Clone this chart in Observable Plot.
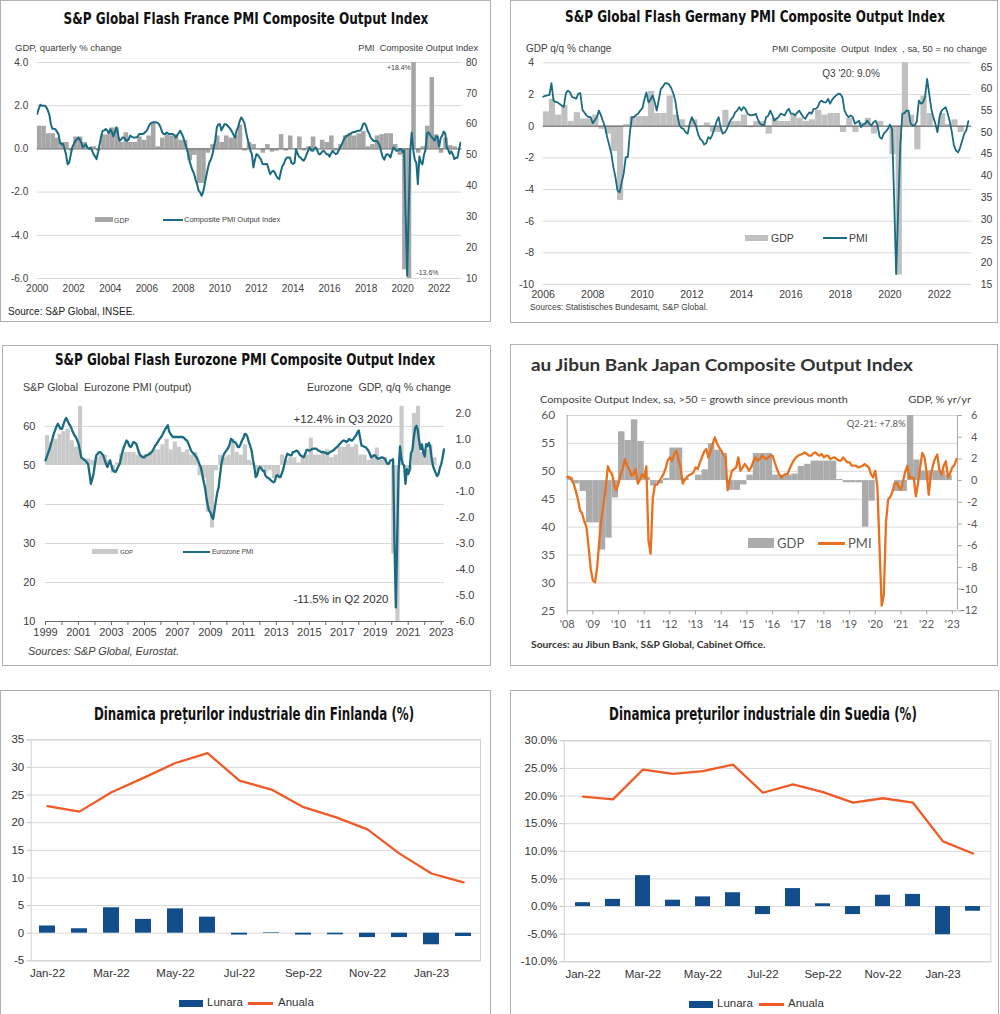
<!DOCTYPE html>
<html><head><meta charset="utf-8">
<script src="https://cdn.jsdelivr.net/npm/d3@7"></script>
<script src="https://cdn.jsdelivr.net/npm/@observablehq/plot@0.6"></script>
<style>
body{margin:0;background:#fff;}
#root{position:relative;width:1000px;height:1014px;overflow:hidden;background:#fff;}
.box{position:absolute;border:1px solid #b0b0b0;box-sizing:border-box;}
.t{position:absolute;white-space:pre;line-height:1;}
</style></head><body><div id="root"></div><script>
// ---------------- DATA ----------------
// France composite PMI, monthly from Jan 2000
const frPMI = [
63.3,65.0,66.3,66.0,66.0,66.0,65.5,64.5,63.0,60.0,58.5,58.5,
58.4,57.5,56.8,54.0,53.5,53.6,52.0,50.0,47.0,47.5,50.0,52.5,
53.5,54.6,55.0,55.7,55.0,54.0,52.5,53.0,53.5,52.5,52.0,52.5,
51.5,50.3,49.5,48.7,51.0,53.6,56.0,57.9,58.0,58.4,58.0,57.0,
58.4,57.5,56.0,57.5,59.0,57.0,54.6,55.0,55.7,55.7,55.0,54.6,
55.0,56.3,56.0,55.7,55.7,55.7,56.0,56.8,56.8,56.8,57.0,57.5,
57.9,59.0,60.0,60.5,60.6,60.6,60.6,60.5,60.0,59.0,57.5,56.8,
56.8,57.3,57.0,56.8,56.8,56.8,56.5,55.7,56.5,57.2,57.9,56.8,
55.7,54.0,52.5,50.5,48.2,46.5,45.0,44.0,42.0,40.6,38.5,37.9,
36.8,38.0,40.5,43.0,45.5,47.5,48.5,50.0,52.5,55.0,59.0,60.0,
60.0,58.0,59.0,60.0,60.0,59.5,59.0,58.4,57.5,56.5,55.7,58.0,
59.0,61.0,62.2,61.5,60.5,58.0,55.5,53.6,51.5,50.3,46.0,48.5,
50.3,50.0,49.2,48.5,47.1,47.0,47.1,47.1,45.5,43.8,44.5,44.9,
44.5,43.3,42.5,42.2,44.5,46.5,47.1,48.5,49.2,49.2,49.2,47.5,
47.1,47.5,51.9,50.5,49.5,49.2,48.5,48.2,49.0,50.3,51.5,52.5,
51.5,51.4,52.0,52.5,51.5,50.3,50.3,51.0,51.4,51.0,50.3,50.3,
49.5,50.5,51.4,50.8,50.3,50.5,51.5,52.5,53.5,54.6,55.5,56.3,
56.3,56.8,57.0,57.3,57.5,57.5,57.9,57.9,57.9,58.5,60.0,60.3,
59.5,57.9,57.0,55.7,55.0,54.6,54.6,54.6,54.0,53.0,51.0,49.2,
48.5,50.0,50.3,50.0,49.2,51.0,52.5,52.0,51.4,51.5,51.9,52.0,
51.0,51.5,30.0,11.0,32.0,51.5,57.3,51.6,48.5,47.5,40.6,49.5,
47.7,47.0,50.0,51.6,57.0,57.4,56.6,55.9,55.3,54.7,56.1,55.8,
52.7,55.5,56.3,57.6,57.0,52.5,51.7,50.4,51.2,50.2,48.7,49.1,
49.1,51.7,54.0];
// France GDP q/q %, quarterly from Q1 2000
const frGDP = [
1.05,1.05,0.7,0.7, 0.5,0.3,0.3,-0.1, 0.55,0.55,0.3,0.0, 0.1,-0.1,0.65,0.65,
0.97,0.97,0.3,0.75, 0.3,0.3,0.55,0.4, 0.6,1.2,0.1,0.5, 0.65,0.6,0.65,0.4,
0.4,-0.55,-0.3,-1.6, -1.6,-0.2,0.2,0.6, 0.3,0.6,0.5,0.6, 1.1,-0.1,0.3,0.2,
0.0,-0.2,0.2,-0.15, -0.1,0.66,-0.1,0.6, 0.0,0.55,-0.1,0.1, 0.55,0.0,0.4,0.3,
0.6,-0.1,0.2,0.6, 0.7,0.6,0.7,0.8, 0.1,0.2,0.6,0.66, 0.7,0.7,0.2,-0.3,
-5.6,-13.6,18.4,-0.2, 0.1,1.05,3.3,0.65, -0.2,0.5,0.15,0.1];
const frYears = [2000,2002,2004,2006,2008,2010,2012,2014,2016,2018,2020,2022];

// Germany composite PMI, monthly from Jan 2006
const dePMI = [
58.2,58.4,58.5,58.6,61.3,57.3,57.0,56.9,56.5,56.2,55.9,59.0,
59.6,59.2,58.1,58.0,57.7,58.9,59.0,55.2,54.5,53.9,53.5,53.5,
52.1,52.8,53.5,55.0,53.9,52.5,51.2,48.9,47.0,45.1,42.0,39.7,
36.6,36.2,38.5,40.5,44.3,44.3,50.0,53.5,53.5,54.0,54.3,55.0,
55.5,57.5,59.2,56.9,57.5,58.5,57.0,55.0,57.5,60.0,60.5,61.3,
61.3,61.0,60.2,59.0,57.3,54.0,51.6,51.0,50.8,50.0,49.7,52.0,
53.5,52.5,51.5,49.7,48.5,48.1,47.2,47.5,48.9,48.5,49.5,51.0,
52.5,53.5,51.0,49.7,50.0,50.8,52.0,53.0,53.5,54.6,55.0,55.8,
55.0,55.8,55.4,54.3,54.0,53.9,54.0,54.3,53.0,52.0,51.7,51.6,
53.5,53.8,55.0,54.0,52.7,53.2,53.5,54.3,54.1,53.9,54.9,55.4,
54.3,54.3,53.9,54.5,55.0,54.3,53.5,53.1,54.0,54.6,54.3,55.4,
55.4,55.8,57.0,57.3,56.9,56.9,57.7,56.6,57.5,58.1,58.5,58.9,
58.8,58.0,55.0,54.0,53.5,53.9,53.5,52.0,52.3,52.7,51.2,51.8,
52.0,52.7,52.0,51.6,52.3,52.7,51.6,48.9,48.5,49.7,50.2,50.8,
51.8,50.7,35.0,17.4,32.3,47.0,54.3,54.4,55.0,55.0,52.0,51.6,
51.6,52.5,57.3,56.6,56.9,58.1,62.3,58.9,55.5,53.5,52.0,50.0,
53.5,55.0,55.4,55.8,54.3,52.5,50.0,47.0,45.8,45.4,46.5,48.1,
49.7,50.5,52.6];
// Germany GDP q/q %, quarterly from Q1 2006
const deGDP = [
0.9,1.7,0.7,1.3, 0.3,0.85,0.45,0.45, 0.7,-0.2,-0.5,-1.6, -4.7,0.1,0.6,0.6,
0.6,2.2,0.8,0.8, 1.9,0.7,0.4,-0.1, 0.4,0.0,0.2,-0.4, -0.4,1.0,0.3,0.3,
0.7,-0.1,0.3,0.3, -0.5,0.5,0.3,0.3, 0.7,0.5,0.3,0.4, 1.0,0.7,0.8,0.8,
-0.4,0.5,-0.4,0.2, 0.5,-0.5,0.3,0.0, -1.8,-9.4,9.0,0.7, -1.5,1.9,0.8,0.0,
0.8,0.1,0.4,-0.4];
const deYears = [2006,2008,2010,2012,2014,2016,2018,2020,2022];

// Eurozone composite PMI, monthly from Jan 1999
const ezPMI = [
51.3,52.3,53.3,54.3,55.5,56.8,58.1,59.0,60.0,60.7,60.0,59.4,
59.4,60.5,61.5,62.2,61.5,60.7,60.2,59.4,58.5,57.8,57.3,56.5,
55.6,54.0,52.1,51.8,51.5,51.3,50.8,50.4,48.0,45.3,46.5,47.9,
50.5,52.6,53.0,53.4,53.4,53.0,52.6,51.5,50.5,49.6,50.5,51.3,
50.0,48.7,48.5,48.3,49.0,49.8,50.4,52.0,53.5,54.7,55.5,56.4,
56.0,55.0,54.7,55.3,56.0,55.8,55.6,54.5,53.3,52.6,52.3,52.1,
52.1,52.6,52.6,52.8,53.0,53.4,53.8,54.5,55.2,55.6,56.2,56.8,
57.2,57.8,58.5,59.2,59.8,60.3,58.8,58.1,57.6,57.3,57.3,57.3,
57.3,57.3,57.3,57.3,57.3,57.0,56.6,56.4,55.6,54.7,53.8,53.3,
53.0,52.5,52.1,51.3,50.3,49.6,48.0,46.0,44.5,42.0,40.0,38.5,
38.0,37.0,36.3,38.5,40.8,43.0,44.4,47.5,50.4,52.0,53.0,53.5,
54.0,54.5,55.5,56.8,56.5,56.0,56.0,55.5,54.7,54.7,55.5,56.4,
57.0,58.1,58.0,57.3,56.0,55.0,53.8,51.5,49.6,47.0,47.5,49.0,
49.6,49.3,48.7,48.7,47.5,47.0,46.8,46.6,46.2,45.9,45.7,46.0,
47.4,47.5,47.0,47.0,48.0,49.0,50.5,52.0,53.0,52.8,52.6,52.6,
53.4,53.5,53.7,53.8,53.5,52.8,52.5,52.3,52.1,53.0,54.0,54.0,
53.8,54.0,54.2,54.3,54.3,54.3,54.0,53.8,53.6,53.4,53.5,53.3,
53.3,53.0,53.1,53.4,53.6,53.8,54.0,54.4,54.7,55.0,55.5,55.8,
56.2,56.4,56.3,56.0,56.3,56.8,56.5,56.4,56.7,57.3,57.7,58.5,
59.0,57.0,55.1,55.0,54.8,54.7,54.3,53.8,53.0,52.1,52.3,52.6,
52.6,52.0,51.7,51.8,52.0,52.1,51.9,51.7,51.0,50.4,50.6,51.3,
51.3,51.6,29.7,13.6,31.9,48.5,54.9,51.9,50.4,50.0,45.3,49.1,
47.8,48.8,53.2,53.8,57.1,59.5,60.2,59.0,56.2,54.2,55.4,53.3,
52.3,55.5,54.9,55.8,54.8,52.0,49.9,48.9,48.1,47.3,47.8,49.3,
50.3,52.0,54.1];
// Eurozone GDP q/q %, quarterly from Q1 1999
const ezGDP = [
1.15,0.9,1.0,1.2, 1.3,1.4,0.95,0.7, 2.5,0.25,0.25,0.2, 0.3,0.4,0.4,0.2,
-0.3,0.1,0.45,0.5, 0.5,0.5,0.4,0.4, 0.4,0.5,0.6,0.6, 0.8,1.0,0.6,0.9,
0.7,0.5,0.6,0.4, 0.5,-0.4,-0.5,-1.8, -2.4,-0.2,0.4,0.3, 0.4,1.0,0.5,0.4,
0.8,0.2,0.1,-0.3, -0.1,-0.3,-0.2,-0.5, -0.4,0.4,0.2,0.3, 0.3,0.1,0.3,0.4,
1.05,0.4,0.4,0.5, 0.6,0.3,0.4,0.7, 0.7,0.8,0.7,0.8, 0.4,0.4,0.2,0.4,
0.67,0.2,0.3,0.1, -3.4,-11.5,12.4,-0.1, -0.2,2.0,2.3,0.5, 0.6,0.8,0.3,0.0];

// Japan composite PMI, monthly from Jan 2008
const jpPMI = [
49.0,49.0,48.5,47.8,46.5,45.0,43.0,42.4,41.0,40.0,36.5,32.5,
30.4,30.1,32.8,37.5,41.5,44.2,47.0,50.9,50.0,49.5,47.5,46.6,
47.8,49.5,50.5,52.2,51.0,50.4,49.2,49.5,50.4,47.8,48.5,49.5,
48.9,50.9,37.6,35.2,45.2,47.5,47.6,48.2,48.8,49.5,50.5,52.0,
52.5,51.9,53.0,53.7,52.2,50.7,47.8,48.5,49.0,49.3,49.5,49.8,
50.7,50.4,51.5,52.5,53.5,54.0,52.5,53.5,54.9,56.1,55.0,54.3,
53.7,53.0,52.5,46.6,48.5,50.1,50.4,50.7,52.5,50.1,50.7,51.3,
50.8,50.1,50.7,51.8,52.5,51.9,52.2,52.8,52.5,52.2,52.5,52.8,
52.8,51.6,50.5,49.5,48.9,49.2,49.5,49.5,50.5,51.3,52.0,52.5,
52.8,53.0,53.1,53.4,53.1,52.8,52.8,53.2,53.4,53.0,52.8,53.1,
52.5,52.8,52.8,52.2,52.4,52.5,52.2,51.9,51.9,52.5,52.0,51.6,
51.6,51.0,51.0,51.0,50.7,50.8,51.0,51.3,51.0,50.7,49.5,48.9,
50.1,47.2,36.4,25.9,27.8,40.8,44.9,45.4,46.3,47.8,48.0,47.2,
46.7,48.2,49.9,51.0,48.8,48.9,48.8,45.5,47.9,50.7,53.3,52.5,
49.9,45.8,49.4,51.1,52.3,53.0,50.2,49.4,51.0,51.8,48.9,49.7,
50.7,51.1,52.2];
// Japan GDP % yr/yr, quarterly from Q1 2008
const jpGDP = [
0.3,-0.3,-1.0,-3.9, -3.9,-6.4,-5.3,-1.6, 4.5,3.7,5.6,3.6, 0.3,-0.5,-0.3,0.2,
3.0,3.0,0.2,0.0, 0.5,1.0,3.4,2.8, 2.5,-0.9,-0.9,-0.4, 0.5,2.5,2.5,2.5,
0.5,0.5,0.5,0.6, 1.3,1.5,1.8,1.8, 1.8,1.8,0.1,-0.2, -0.2,-0.2,-4.3,-1.9,
0,0,0,-1.0, -1.0,7.8,1.9,0.9, 0.9,0.9,0.9,0.5];
const jpYears = [2008,2009,2010,2011,2012,2013,2014,2015,2016,2017,2018,2019,2020,2021,2022,2023];

// Finland / Sweden industrial prices
const months = ["Jan-22","Feb-22","Mar-22","Apr-22","May-22","Jun-22","Jul-22","Aug-22","Sep-22","Oct-22","Nov-22","Dec-22","Jan-23","Feb-23"];
const monthLabels = ["Jan-22","Mar-22","May-22","Jul-22","Sep-22","Nov-22","Jan-23"];
const fiLunara = [1.3,0.8,4.6,2.5,4.4,2.9,-0.35,0.1,-0.35,-0.3,-0.8,-0.8,-2.1,-0.6];
const fiAnuala = [23.0,22.0,25.5,28.1,30.8,32.6,27.6,26.0,22.8,21.0,18.8,14.4,10.8,9.2];
const seLunara = [0.7,1.3,5.6,1.15,1.75,2.5,-1.45,3.25,0.5,-1.45,2.05,2.2,-5.1,-0.85];
const seAnuala = [19.9,19.4,24.8,24.0,24.5,25.7,20.6,22.1,20.7,18.8,19.6,18.8,11.8,9.6];

// ---------------- HELPERS ----------------
const root = document.getElementById("root");
const SANS = '"Liberation Sans", Arial, sans-serif';
const NARROW = '"Liberation Sans Narrow", "DejaVu Sans Condensed", "Liberation Sans", sans-serif';
const LATO = 'Lato, "Open Sans", sans-serif';
const TEAL = "#1a6b82", ORANGE = "#e8711f", BLUE = "#124d8c", RED = "#ef5a26";

function box(l,t,w,h){const d=document.createElement("div");d.className="box";Object.assign(d.style,{left:l+"px",top:t+"px",width:w+"px",height:h+"px"});root.append(d);}
function txt(s,x,y,o={}){const d=document.createElement("div");d.className="t";d.textContent=s;
  const a=o.align||"left";
  Object.assign(d.style,{left:x+"px",top:y+"px",
   fontSize:(o.size||10)+"px",fontFamily:o.font||SANS,fontWeight:o.bold?"bold":"normal",fontStyle:o.italic?"italic":"normal",color:o.color||"#404040"});
  root.append(d);
  let sc=1; if(o.w){const mw=d.offsetWidth; if(mw>0) sc=o.w/mw;}
  d.style.transformOrigin = a==="left"?"0 50%":a==="center"?"50% 50%":"100% 50%";
  d.style.transform=`translate(${a==="left"?0:a==="center"?-50:-100}%,-50%) scaleX(${sc})`;
}
function sw(l,t,w,h,c){const d=document.createElement("div");Object.assign(d.style,{position:"absolute",left:l+"px",top:t+"px",width:w+"px",height:h+"px",background:c});root.append(d);}
function put(svg,l,t){svg.style.position="absolute";svg.style.left=l+"px";svg.style.top=t+"px";svg.style.maxWidth="none";root.append(svg);}
const monthly=(y0,vals)=>vals.map((v,i)=>({x:y0+i/12,v}));
const quarterly=(y0,vals)=>vals.map((v,i)=>({x1:y0+i/4,x2:y0+(i+1)/4,v}));
const range=(a,b,s)=>d3.range(a,b+s/2,s);

// ---------------- FRANCE ----------------
box(0,0,491,322);
txt("S&P Global Flash France PMI Composite Output Index",245.5,20,{align:"center",size:15.5,bold:true,font:NARROW,color:"#111",w:365});
txt("GDP, quarterly % change",15,48,{size:9.5});
txt("PMI  Composite Output Index",478,48,{size:9.5,align:"right",w:120});
txt("Source: S&P Global, INSEE.",8,312,{size:10,color:"#222"});
{
  const toL=p=>(p-52)/7;
  put(Plot.plot({
    width:492,height:322,marginLeft:36.7,marginRight:30.5,marginTop:62,marginBottom:44,
    x:{domain:[2000,2023.25],label:null},y:{domain:[-6,4],label:null},
    style:{fontFamily:SANS,fontSize:"10px",color:"#404040",background:"transparent",overflow:"visible"},
    marks:[
      Plot.ruleY(range(-6,4,2),{stroke:"#d9d9d9"}),
      Plot.rect(quarterly(2000,frGDP),{x1:"x1",x2:"x2",y1:0,y2:"v",fill:"#a6a6a6",clip:true}),
      Plot.ruleY([0],{stroke:"#6a6a6a"}),
      Plot.line(monthly(2000,frPMI),{x:"x",y:d=>toL(d.v),stroke:TEAL,strokeWidth:2,clip:true}),
      Plot.axisX(frYears,{tickSize:0,tickPadding:6,tickFormat:d=>String(d),fontSize:10}),
      Plot.axisY(range(-6,4,2),{anchor:"left",tickSize:0,tickPadding:9,tickFormat:d=>d.toFixed(1),fontSize:10}),
      Plot.axisY(range(10,80,10).map(toL),{anchor:"right",tickSize:0,tickPadding:4,tickFormat:d=>String(Math.round(d*7+52)),fontSize:10}),
      Plot.text(["+18.4%"],{x:2020.45,y:3.77,text:d=>d,textAnchor:"end",fontSize:7,fill:"#404040"}),
      Plot.text(["-13.6%"],{x:2020.75,y:-5.72,text:d=>d,textAnchor:"start",fontSize:7,fill:"#404040"})
    ]}),0,0);
  sw(95,217,18,5,"#a6a6a6"); txt("GDP",114,219.5,{size:7});
  sw(163,218.5,20,2,TEAL); txt("Composite PMI Output Index",184,219.5,{size:7.5});
}

// ---------------- GERMANY ----------------
box(510,0,488,323);
txt("S&P Global Flash Germany PMI Composite Output Index",755,18,{align:"center",size:15.5,bold:true,font:NARROW,color:"#111",w:380});
txt("GDP q/q % change",526,49,{size:10});
txt("PMI Composite  Output  Index  , sa, 50 = no change",987,49,{size:9.5,align:"right",w:215});
txt("Sources: Statistisches Bundesamt, S&P Global.",530,307,{size:8.5,w:178});
{
  const toL=p=>(p-51.43)/3.643;
  put(Plot.plot({
    width:495,height:322,marginLeft:37.7,marginRight:28.8,marginTop:62.3,marginBottom:38,
    x:{domain:[2006,2023.3],label:null},y:{domain:[-10,4],label:null},
    style:{fontFamily:SANS,fontSize:"10px",color:"#404040",background:"transparent",overflow:"visible"},
    marks:[
      Plot.ruleY(range(-10,4,2),{stroke:"#d9d9d9"}),
      Plot.rect(quarterly(2006,deGDP),{x1:"x1",x2:"x2",y1:0,y2:"v",fill:"#c0c0c0",clip:true}),
      Plot.ruleY([0],{stroke:"#555"}),
      Plot.line(monthly(2006,dePMI),{x:"x",y:d=>toL(d.v),stroke:TEAL,strokeWidth:1.8}),
      Plot.axisX(deYears,{tickSize:0,tickPadding:6,tickFormat:d=>String(d),fontSize:10.5}),
      Plot.axisY(range(-10,4,2),{anchor:"left",tickSize:0,tickPadding:9,tickFormat:d=>String(d),fontSize:10.5}),
      Plot.axisY(range(15,65,5).map(toL),{anchor:"right",tickSize:0,tickPadding:9,tickFormat:d=>String(Math.round(d*3.643+51.43)),fontSize:10.5}),
      Plot.text(["Q3 '20: 9.0%"],{x:2018.43,y:3.32,text:d=>d,fontSize:10,fill:"#404040"})
    ]}),505,0);
  sw(745,235,23,6,"#c0c0c0"); txt("GDP",771,238,{size:10.5});
  sw(823,237,24,2,TEAL); txt("PMI",849,238,{size:10.5});
}

// ---------------- EUROZONE ----------------
box(2,345,489,321);
txt("S&P Global Flash Eurozone PMI Composite Output Index",245,361,{align:"center",size:15.5,bold:true,font:NARROW,color:"#111",w:380});
txt("S&P Global  Eurozone PMI (output)",23,387,{size:11,w:168});
txt("Eurozone  GDP, q/q % change",451,387,{size:11,align:"right",w:144});
txt("Sources: S&P Global, Eurostat.",28,651,{size:11,italic:true,w:151});
{
  const toL=g=>50+6.676*g;
  put(Plot.plot({
    width:495,height:321,marginLeft:45,marginRight:51,marginTop:60.7,marginBottom:45,
    x:{domain:[1999,2023.2],label:null},y:{domain:[10,65.2],label:null},
    style:{fontFamily:SANS,fontSize:"11px",color:"#404040",background:"transparent",overflow:"visible"},
    marks:[
      Plot.ruleY([20,30,40,60],{stroke:"#d9d9d9"}),
      Plot.rect(quarterly(1999,ezGDP),{x1:"x1",x2:"x2",y1:50,y2:d=>toL(d.v),fill:"#c9c9c9",clip:true}),
      Plot.ruleY([10],{stroke:"#666"}),
      Plot.line(monthly(1999,ezPMI),{x:"x",y:"v",stroke:TEAL,strokeWidth:2.3}),
      Plot.axisX(range(1999,2023,1),{tickSize:4,tickPadding:3,stroke:"#666",tickFormat:d=>d%2===1?String(d):"",fontSize:11}),
      Plot.axisY(range(10,60,10),{anchor:"left",tickSize:0,tickPadding:10,tickFormat:d=>String(d),fontSize:11}),
      Plot.axisY(range(-6,2,1).map(toL),{anchor:"right",tickSize:0,tickPadding:11,tickFormat:d=>((d-50)/6.676).toFixed(1),fontSize:11}),
      Plot.text(["+12.4% in Q3 2020"],{x:2020.04,y:61.8,text:d=>d,textAnchor:"end",fontSize:11.5,fill:"#333"}),
      Plot.text(["-11.5% in Q2 2020"],{x:2019.8,y:15.6,text:d=>d,textAnchor:"end",fontSize:11.5,fill:"#333"})
    ]}),0,345);
  sw(92,549,26,5,"#c9c9c9"); txt("GDP",120,551.5,{size:6});
  sw(183,550.5,27,2,TEAL); txt("Eurozone PMI",212,551.5,{size:6.5});
}

// ---------------- JAPAN ----------------
box(510,344,488,322);
txt("au Jibun Bank Japan Composite Output Index",531,365,{size:17.5,bold:true,font:LATO,color:"#333",w:382});
txt("Composite Output Index, sa, >50 = growth since previous month",540,399,{size:10,font:LATO,w:308});
txt("GDP, % yr/yr",971,399,{size:10,font:LATO,align:"right",w:63});
txt("Sources: au Jibun Bank, S&P Global, Cabinet Office.",531,645,{size:8.5,bold:true,font:LATO,color:"#333",w:234});
{
  const toL=g=>48.333+1.9444*g;
  const xd=[2008,2023.2];
  put(Plot.plot({
    width:495,height:323,marginLeft:61.7,marginRight:43.1,marginTop:70,marginBottom:57.7,
    x:{domain:xd,label:null},y:{domain:[25,60],label:null},
    style:{fontFamily:LATO,fontSize:"12px",color:"#595959",background:"transparent",overflow:"visible"},
    marks:[
      Plot.ruleY(range(30,60,5),{stroke:"#d9d9d9"}),
      Plot.rect(quarterly(2008,jpGDP),{x1:"x1",x2:"x2",y1:toL(0),y2:d=>toL(d.v),fill:"#ababab",clip:true}),
      Plot.ruleY([25],{stroke:"#a6a6a6"}),
      Plot.ruleX(xd,{stroke:"#a6a6a6"}),
      Plot.line(monthly(2008,jpPMI),{x:"x",y:"v",stroke:ORANGE,strokeWidth:2.3}),
      Plot.axisX(jpYears,{tickSize:4,tickPadding:5,stroke:"#a6a6a6",tickFormat:d=>"'"+String(d).slice(2),fontSize:11}),
      Plot.axisY(range(25,60,5),{anchor:"left",tickSize:0,tickPadding:12,tickFormat:d=>String(d),fontSize:12}),
      Plot.axisY(range(-12,6,2).map(toL),{anchor:"right",tickSize:4,tickPadding:16,stroke:"#a6a6a6",textAnchor:"end",tickFormat:d=>String(Math.round((d-48.333)/1.9444)),fontSize:11}),
      Plot.text(["Q2-21: +7.8%"],{x:2021.18,y:58.4,text:d=>d,textAnchor:"end",fontSize:9.5,fill:"#595959"})
    ]}),505,345);
  sw(748,538,26,10,"#ababab"); txt("GDP",777,543,{size:13,font:LATO,color:"#595959"});
  sw(818,541.5,27,3,ORANGE); txt("PMI",848,543,{size:13,font:LATO,color:"#595959"});
}

// ---------------- FINLAND / SWEDEN ----------------
function priceChart(lun,anu,l,t,w,h,ml,mr,mt,mb,yd,fmt){
  const rows=months.map((m,i)=>({m,lun:lun[i],anu:anu[i]}));
  put(Plot.plot({
    width:w,height:h,marginLeft:ml,marginRight:mr,marginTop:mt,marginBottom:mb,
    x:{type:"band",domain:months,paddingInner:0.5,paddingOuter:0.25,label:null},
    y:{domain:yd,label:null},
    style:{fontFamily:SANS,fontSize:"11.5px",color:"#333",background:"transparent",overflow:"visible"},
    marks:[
      Plot.ruleY(range(yd[0],yd[1],5),{stroke:"#d9d9d9"}),
      Plot.frame({stroke:"#d0d0d0"}),
      Plot.barY(rows,{x:"m",y1:0,y2:"lun",fill:BLUE}),
      Plot.line(rows,{x:"m",y:"anu",stroke:RED,strokeWidth:2.3}),
      Plot.axisX(monthLabels,{tickSize:0,tickPadding:8,fontSize:11.5}),
      Plot.axisY(range(yd[0],yd[1],5),{anchor:"left",tickSize:4,tickPadding:3,stroke:"#bfbfbf",tickFormat:fmt,fontSize:11.5})
    ]}),l,t);
}
box(0,690,491,330);
txt("Dinamica prețurilor industriale din Finlanda (%)",254,714,{align:"center",size:17,bold:true,font:NARROW,color:"#111",w:320});
priceChart(fiLunara,fiAnuala,0,688,492,326,30.7,12,51.3,53.7,[-5,35],d=>String(d));
sw(179,1000,24,6.5,BLUE); txt("Lunara",207,1003,{size:11.5,color:"#333"});
sw(248,1002,25,2.5,RED); txt("Anuala",278,1003,{size:11.5,color:"#333"});

box(510,690,489,330);
txt("Dinamica prețurilor industriale din Suedia (%)",763,714,{align:"center",size:17,bold:true,font:NARROW,color:"#111",w:308});
priceChart(seLunara,seAnuala,505,688,495,326,58.7,9.7,52.3,52.7,[-10,30],d=>d.toFixed(1)+"%");
sw(689,1001,24,6.5,BLUE); txt("Lunara",717,1004,{size:11.5,color:"#333"});
sw(759,1003,25,2.5,RED); txt("Anuala",788,1004,{size:11.5,color:"#333"});
</script></body></html>
